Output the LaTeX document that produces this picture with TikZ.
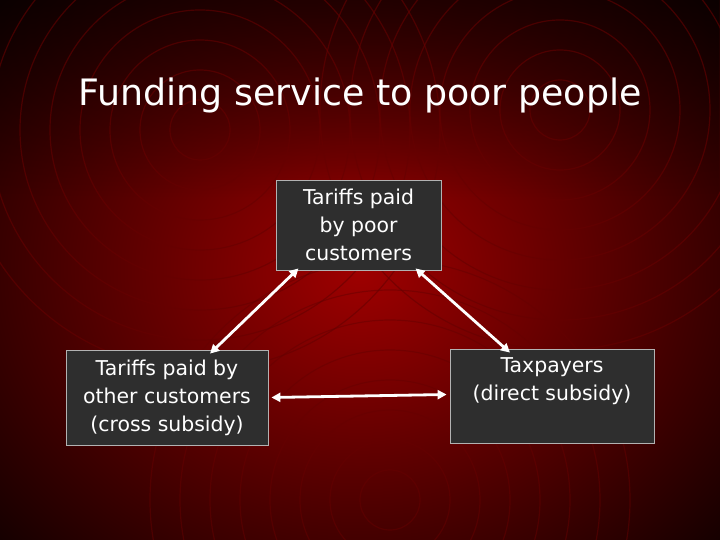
\documentclass[tikz,border=0pt]{standalone}
\usepackage{fontspec}
\setmainfont{DejaVu Sans}
\usetikzlibrary{arrows.meta,fadings}
\begin{document}
\begin{tikzpicture}[x=1bp,y=-1bp,
  box/.style={draw=gray!60, line width=0.8bp, fill=black!82, text=white, align=center, font=\fontsize{20.5}{28}\selectfont, inner sep=1bp},
  link/.style={draw=white, line width=2.8bp, {Triangle[length=9bp,width=9bp]}-{Triangle[length=9bp,width=9bp]}}]
\useasboundingbox (0,0) rectangle (720,540);
\shade[inner color=red!62!black, outer color=black] (-200,-200) rectangle (920,740);
\fill[black, path fading=south, opacity=0.5] (0,0) rectangle (720,200);
\foreach \r in {30,60,90,120,150,180,210,240}{
  \draw[red!40!black, opacity=0.6, line width=1.2bp] (200,130) circle (\r);
  \draw[red!40!black, opacity=0.6, line width=1.2bp] (560,110) circle (\r);
  \draw[red!40!black, opacity=0.5, line width=1.2bp] (390,500) circle (\r);
}
\node[text=white, font=\fontsize{36.5}{42}\selectfont] (title) at (360,95) {Funding service to poor people};
\node[box, minimum width=165bp, minimum height=90bp] (top) at (358.5,225) {Tariffs paid\\by poor\\customers};
\node[box, minimum width=202bp, minimum height=95bp] (left) at (167,397.5) {Tariffs paid by\\other customers\\(cross subsidy)};
\node[box, minimum width=204bp, minimum height=94bp] (right) at (552,396) {Taxpayers\\(direct subsidy)\\[0.3em]};
\draw[link] ([xshift=-60bp,yshift=2bp]top.south) -- ([xshift=43bp,yshift=-4bp]left.north);
\draw[link] ([xshift=57bp,yshift=2bp]top.south) -- ([xshift=-42bp,yshift=-4bp]right.north);
\draw[link] ([xshift=3bp]left.east) -- ([xshift=-3bp,yshift=1.5bp]right.west);
\end{tikzpicture}
\end{document}
